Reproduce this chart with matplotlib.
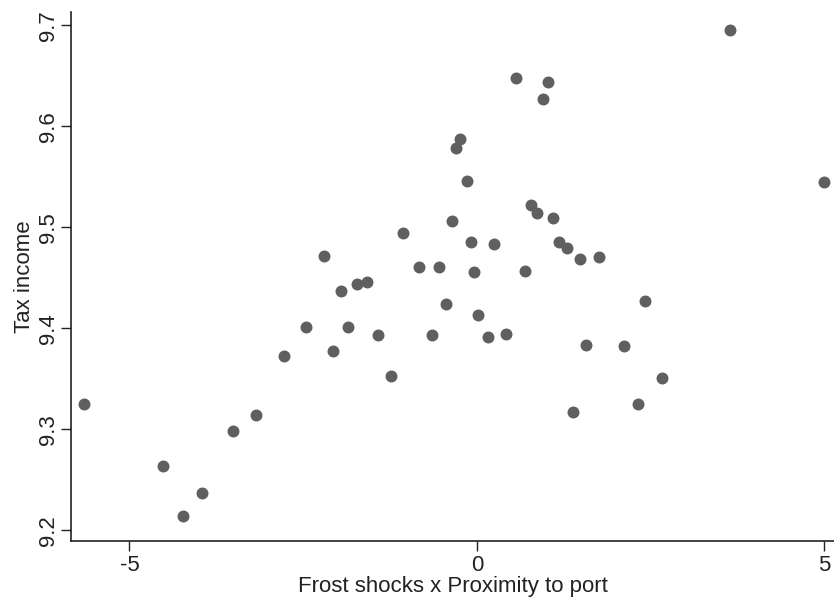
import matplotlib
matplotlib.use("Agg")
import matplotlib.pyplot as plt

# --- data ---
frost_port = [
    -5.650, -3.184, -3.515, -4.522, -3.957, -4.226,
    -1.065, -0.091, -2.201, -0.830, -0.542, -0.047, -1.961, -1.722, -1.583,
    -0.442, 0.010, -2.456, -1.852, -1.420, -0.652, -2.773, -2.076, -1.242,
    0.561, 1.026, 0.945, -0.245, -0.306, -0.148, 0.777, 0.859, 1.101, -0.355,
    0.252, 1.184, 1.295, 1.479, 1.752,
    0.691, 2.417, 0.154, 0.413, 1.564, 2.118,
    2.662, 2.312, 1.386,
    4.988, 3.636,
]
tax_income = [
    9.3255, 9.3143, 9.2988, 9.2638, 9.2374, 9.2144,
    9.4947, 9.4858, 9.4714, 9.4605, 9.4611, 9.4555, 9.4373, 9.4443, 9.4462,
    9.4242, 9.4136, 9.4014, 9.4011, 9.3938, 9.3938, 9.3730, 9.3777, 9.3529,
    9.6481, 9.6442, 9.6271, 9.5878, 9.5789, 9.5456, 9.5222, 9.5145, 9.5090, 9.5060,
    9.4836, 9.4858, 9.4799, 9.4692, 9.4710,
    9.4565, 9.4274, 9.3912, 9.3945, 9.3833, 9.3826,
    9.3512, 9.3252, 9.3176,
    9.5446, 9.6953,
]
x_ticks = [-5, 0, 5]
y_ticks = [9.2, 9.3, 9.4, 9.5, 9.6, 9.7]

plt.rcParams["font.family"] = ["Liberation Sans", "DejaVu Sans"]

fig = plt.figure(figsize=(8.34, 5.97), dpi=100)
ax = fig.add_axes([0.0855, 0.0943, 0.9145, 0.8856])

ax.scatter(frost_port, tax_income, s=74, color="#5f5f5f", linewidths=0, zorder=3)

ax.set_xlim(-5.837, 5.137)
ax.set_ylim(9.1899, 9.7132)

ax.set_xticks(x_ticks)
ax.set_xticklabels(["-5", "0", "5"])
ax.set_yticks(y_ticks)
ax.set_yticklabels([f"{v:.1f}" for v in y_ticks], rotation=90, va="center")

ax.tick_params(axis="both", length=7, width=1.0, color="#222222",
               labelsize=16, labelcolor="#222222")
ax.tick_params(axis="x", pad=3)
ax.tick_params(axis="y", pad=2)

for side in ["top", "right"]:
    ax.spines[side].set_visible(False)
for side in ["left", "bottom"]:
    ax.spines[side].set_linewidth(1.2)
    ax.spines[side].set_color("#222222")

ax.set_xlabel("Frost shocks x Proximity to port", fontsize=16, color="#222222", labelpad=0)
ax.set_ylabel("Tax income", fontsize=16, color="#222222", labelpad=2)

fig.savefig("out.png", dpi=100)
